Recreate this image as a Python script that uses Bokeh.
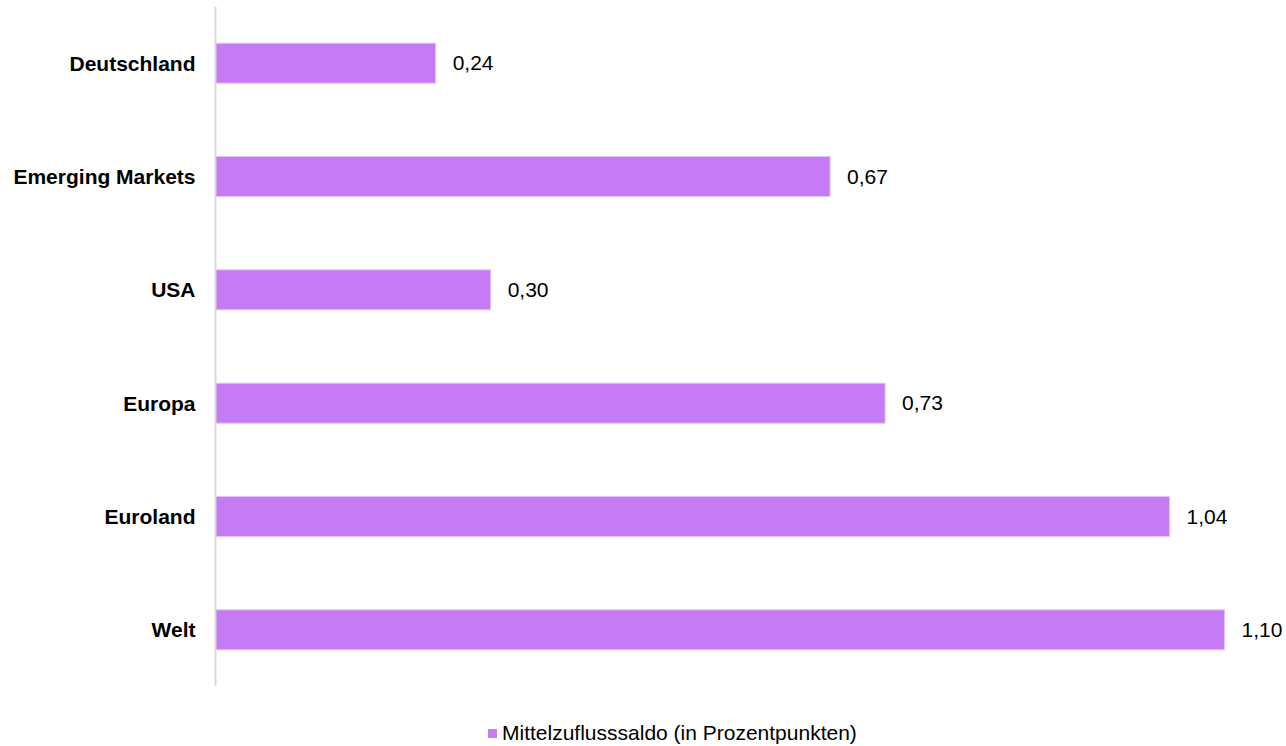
from bokeh.plotting import figure
from bokeh.layouts import column
from bokeh.models import ColumnDataSource, FactorRange, Range1d, Legend, LegendItem
from bokeh.core.properties import value
from bokeh.embed import file_html
from bokeh.resources import INLINE

categories = ["Deutschland", "Emerging Markets", "USA", "Europa", "Euroland", "Welt"]
values = [0.24, 0.67, 0.30, 0.73, 1.04, 1.10]
series_name = "Mittelzuflusssaldo (in Prozentpunkten)"

labels = [f"{v:.2f}".replace(".", ",") for v in values]
src = ColumnDataSource(dict(cat=categories, val=values, lab=labels))

FONT = "Liberation Sans"
BAR = "#c57bf3"
EDGE = "#e2c3fa"

p = figure(width=1286, height=686, output_backend="svg", toolbar_location=None,
           y_range=FactorRange(factors=categories[::-1], range_padding=0),
           x_range=Range1d(0, 1.1676), x_axis_location=None,
           min_border_left=215, min_border_right=0, min_border_top=6, min_border_bottom=0)
p.outline_line_color = None
p.xgrid.visible = False
p.ygrid.visible = False

r = p.hbar(y="cat", right="val", left=0, height=0.353, source=src,
           fill_color=BAR, line_color=EDGE, line_width=1)
p.text(x="val", y="cat", text="lab", source=src, x_offset=17,
       text_baseline="middle", text_align="left",
       text_font=value(FONT), text_font_size="21px", text_color="#000000")

ax = p.yaxis[0]
ax.axis_line_color = "#d9d9d9"
ax.axis_line_width = 2
ax.major_tick_line_color = None
ax.minor_tick_line_color = None
ax.major_label_standoff = 14
ax.major_label_text_font = FONT
ax.major_label_text_font_size = "21px"
ax.major_label_text_font_style = "bold"
ax.major_label_text_color = "#000000"

# legend strip below the chart (same series, renderer hidden; only its legend entry shows)
lf = figure(width=1286, height=60, output_backend="svg", toolbar_location=None,
            x_range=Range1d(0, 1.1676),
            y_range=FactorRange(factors=categories[::-1], range_padding=0),
            x_axis_location=None, y_axis_location=None,
            min_border_left=215, min_border_right=0, min_border_top=0, min_border_bottom=0)
lf.outline_line_color = None
lf.xgrid.visible = False
lf.ygrid.visible = False
lr = lf.hbar(y="cat", right="val", left=0, height=0.353, source=src,
             fill_color=BAR, line_color=BAR, visible=False)

legend = Legend(items=[LegendItem(label=series_name, renderers=[lr])],
                location=(272, 1), orientation="horizontal",
                glyph_width=10, glyph_height=10, label_text_font=FONT,
                label_text_font_size="21px", label_text_color="#000000",
                label_height=21, label_standoff=5, padding=0, margin=0,
                border_line_color=None, background_fill_alpha=0,
                inactive_fill_alpha=0)
lf.add_layout(legend, "center")

layout = column(p, lf, spacing=0)
open("out.html", "w").write(file_html(layout, INLINE))
